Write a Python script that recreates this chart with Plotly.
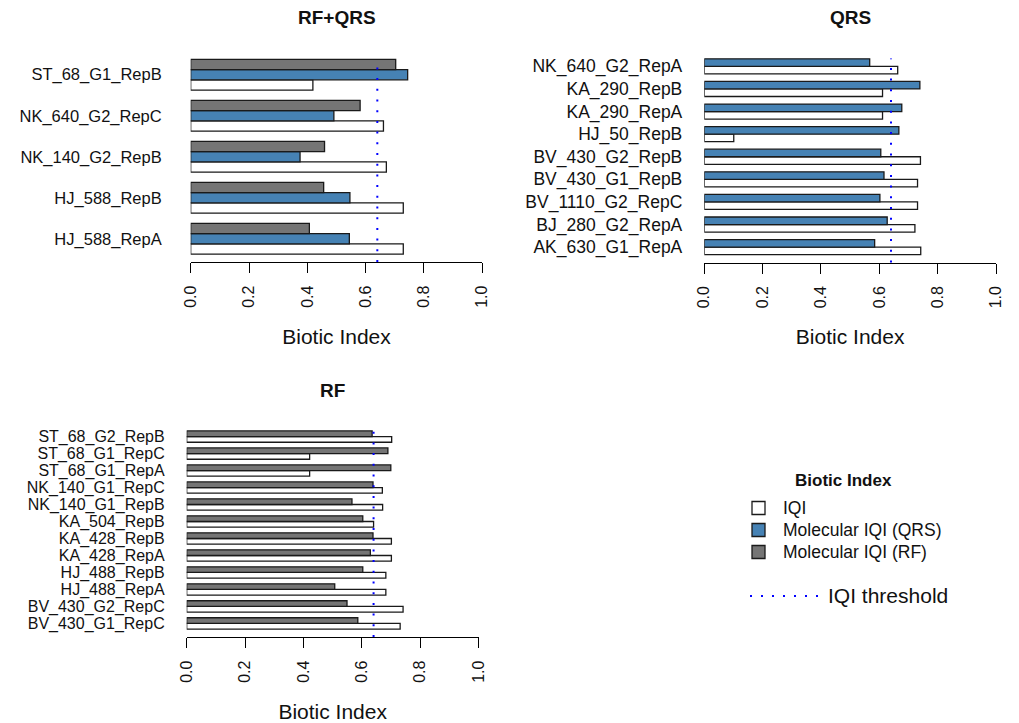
import plotly.graph_objects as go

# ---------------- data ----------------
THRESHOLD = 0.64
TICK_VALUES = [0.0, 0.2, 0.4, 0.6, 0.8, 1.0]
TICK_LABELS = ["0.0", "0.2", "0.4", "0.6", "0.8", "1.0"]

# Panel "RF+QRS" (listed bottom to top)
samples_rfqrs = ["HJ_588_RepA", "HJ_588_RepB", "NK_140_G2_RepB", "NK_640_G2_RepC", "ST_68_G1_RepB"]
iqi_rfqrs = [0.729, 0.729, 0.671, 0.661, 0.419]
mol_qrs_rfqrs = [0.544, 0.546, 0.375, 0.491, 0.744]
mol_rf_rfqrs = [0.407, 0.456, 0.459, 0.581, 0.703]

# Panel "QRS" (bottom to top)
samples_qrs = ["AK_630_G1_RepA", "BJ_280_G2_RepA", "BV_1110_G2_RepC", "BV_430_G1_RepB",
               "BV_430_G2_RepB", "HJ_50_RepB", "KA_290_RepA", "KA_290_RepB", "NK_640_G2_RepA"]
iqi_qrs = [0.742, 0.722, 0.731, 0.731, 0.741, 0.101, 0.611, 0.611, 0.663]
mol_qrs_qrs = [0.584, 0.627, 0.602, 0.616, 0.605, 0.667, 0.677, 0.739, 0.567]

# Panel "RF" (bottom to top)
samples_rf = ["BV_430_G1_RepC", "BV_430_G2_RepC", "HJ_488_RepA", "HJ_488_RepB", "KA_428_RepA",
              "KA_428_RepB", "KA_504_RepB", "NK_140_G1_RepB", "NK_140_G1_RepC", "ST_68_G1_RepA",
              "ST_68_G1_RepC", "ST_68_G2_RepB"]
iqi_rf = [0.731, 0.741, 0.682, 0.682, 0.701, 0.701, 0.640, 0.671, 0.670, 0.421, 0.421, 0.702]
mol_rf_rf = [0.586, 0.549, 0.507, 0.603, 0.629, 0.638, 0.603, 0.566, 0.638, 0.699, 0.689, 0.635]

LEGEND_TITLE = "Biotic Index"
SERIES_NAMES = ["IQI", "Molecular IQI (QRS)", "Molecular IQI (RF)"]
THRESHOLD_NAME = "IQI threshold"

# ---------------- style ----------------
W, H = 1019, 723
OFF = 8                      # page body margin of the html page
FW, FH = W - OFF, H - OFF    # figure size
FONT = "Liberation Sans, Arial, Helvetica, sans-serif"
C_WHITE, C_BLUE, C_GRAY = "#ffffff", "#4682b4", "#757575"
EDGE = "#1a1a1a"
COLORS = [C_WHITE, C_BLUE, C_GRAY]


def fx(p):
    return (p - OFF) / FW


def fy(p):
    return 1 - (p - OFF) / FH


fig = go.Figure()


def add_panel(idx, cats, series, xdom, ydom, title, title_y, label_size, label_gap):
    xa = "x" if idx == 1 else f"x{idx}"
    ya = "y" if idx == 1 else f"y{idx}"
    n = len(series)
    w = 1.0 / (n + 1)
    for k, (vals, color, name) in enumerate(series):
        fig.add_trace(go.Bar(
            y=cats, x=vals, orientation="h", width=w, offset=-n * w / 2 + k * w,
            marker=dict(color=color, line=dict(color=EDGE, width=1.3)),
            name=name, showlegend=False, xaxis=xa, yaxis=ya,
        ))
    lo = -n * w / 2
    hi = len(cats) - 1 + n * w / 2
    ext = 0.04 * (hi - lo)
    key = "" if idx == 1 else str(idx)
    fig.layout["xaxis" + key] = dict(
        domain=[fx(xdom[0]), fx(xdom[1])], anchor=ya, range=[0, 1],
        tickmode="array", tickvals=TICK_VALUES, ticktext=TICK_LABELS, tickangle=-90,
        ticks="outside", ticklen=10, tickwidth=1.3, tickcolor="black",
        ticklabelstandoff=6,
        showline=True, linecolor="black", linewidth=1.3,
        showgrid=False, zeroline=False, automargin=False,
        tickfont=dict(family=FONT, size=16, color="#111"),
        title=dict(text="Biotic Index", font=dict(family=FONT, size=21, color="#111"), standoff=22),
        fixedrange=True,
    )
    fig.layout["yaxis" + key] = dict(
        domain=[fy(ydom[1]), fy(ydom[0])], anchor=xa, type="category",
        categoryorder="array", categoryarray=cats, range=[lo - ext, hi + ext],
        tickmode="array", tickvals=cats, ticktext=cats,
        showline=False, ticks="", showgrid=False, zeroline=False, automargin=False,
        ticklabelstandoff=label_gap,
        tickfont=dict(family=FONT, size=label_size, color="#111"), fixedrange=True,
    )
    # threshold line
    fig.add_shape(type="line", xref=xa, yref=ya + " domain", x0=THRESHOLD, x1=THRESHOLD,
                  y0=0, y1=0.965, line=dict(color="#0000ff", width=2, dash="2px,8.7px"))
    fig.add_annotation(text=f"<b>{title}</b>", xref="paper", yref="paper",
                       x=fx((xdom[0] + xdom[1]) / 2), y=fy(title_y), showarrow=False,
                       xanchor="center", yanchor="middle",
                       font=dict(family=FONT, size=19, color="#111"))


add_panel(1, samples_rfqrs,
          [(iqi_rfqrs, C_WHITE, SERIES_NAMES[0]), (mol_qrs_rfqrs, C_BLUE, SERIES_NAMES[1]),
           (mol_rf_rfqrs, C_GRAY, SERIES_NAMES[2])],
          (190.7, 482.3), (51.5, 262.0), "RF+QRS", 18, 16.5, 28)
add_panel(2, samples_qrs,
          [(iqi_qrs, C_WHITE, SERIES_NAMES[0]), (mol_qrs_qrs, C_BLUE, SERIES_NAMES[1])],
          (704.3, 996.0), (51.0, 262.5), "QRS", 18, 17.5, 21)
add_panel(3, samples_rf,
          [(iqi_rf, C_WHITE, SERIES_NAMES[0]), (mol_rf_rf, C_GRAY, SERIES_NAMES[2])],
          (186.7, 478.7), (423.0, 637.0), "RF", 390, 16, 21)

# ---------------- legend (drawn manually) ----------------
fig.add_annotation(text=f"<b>{LEGEND_TITLE}</b>", xref="paper", yref="paper",
                   x=fx(843), y=fy(480), showarrow=False, xanchor="center", yanchor="middle",
                   font=dict(family=FONT, size=17, color="#111"))
for i, (name, color) in enumerate(zip(SERIES_NAMES, COLORS)):
    cy = 508 + 22 * i
    fig.add_shape(type="rect", xref="paper", yref="paper",
                  x0=fx(752), x1=fx(765), y0=fy(cy + 6.5), y1=fy(cy - 6.5),
                  fillcolor=color, line=dict(color=EDGE, width=1.3))
    fig.add_annotation(text=name, xref="paper", yref="paper", x=fx(781), y=fy(cy),
                       showarrow=False, xanchor="left", yanchor="middle",
                       font=dict(family=FONT, size=17.5, color="#111"))
fig.add_shape(type="line", xref="paper", yref="paper", x0=fx(750), x1=fx(818),
              y0=fy(596), y1=fy(596), line=dict(color="#0000ff", width=2, dash="2px,9px"))
fig.add_annotation(text=THRESHOLD_NAME, xref="paper", yref="paper", x=fx(826), y=fy(595),
                   showarrow=False, xanchor="left", yanchor="middle",
                   font=dict(family=FONT, size=21, color="#111"))

fig.update_layout(
    template="none",
    width=FW, height=FH, margin=dict(l=0, r=0, t=0, b=0),
    paper_bgcolor="white", plot_bgcolor="white", barmode="overlay",
    font=dict(family=FONT), showlegend=False,
)

fig.write_html("out.html")
